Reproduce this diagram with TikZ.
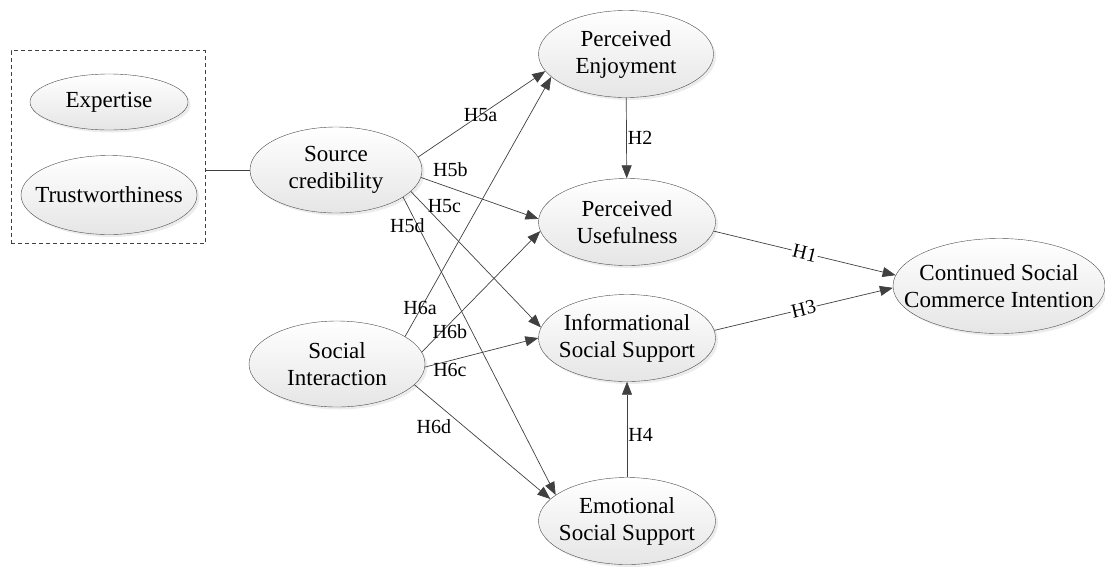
\documentclass[tikz,border=0pt]{standalone}
\usepackage{fontspec}
\setmainfont{Liberation Serif}
\usetikzlibrary{arrows.meta, positioning, shapes.geometric, shadows}

\begin{document}
\begin{tikzpicture}[
        x=1pt, y=-1pt,
        construct/.style={draw=black!70, ellipse, align=center, inner xsep=-20pt, inner ysep=0pt, top color=white, bottom color=black!10,
            drop shadow={shadow xshift=2.5pt, shadow yshift=-2.5pt, opacity=0.15},
            font=\fontsize{23}{27}\selectfont},
        dashbox/.style={draw=black!75, dash pattern=on 4pt off 3pt, line width=0.7pt},
        link/.style={draw=black!75, line width=0.7pt},
        effect/.style={link, -{Triangle[length=13pt, width=10pt]}},
        hyp/.style={font=\fontsize{20}{24}\selectfont, inner sep=1pt}
    ]
        \useasboundingbox (0,0) rectangle (1105,566);

        % source credibility dimensions
        \node[dashbox, minimum width=194pt, minimum height=193pt] (credbox) at (108,147) {};
        \node[construct, minimum width=158pt, minimum height=56pt] (ex) at (109,102) {Expertise};
        \node[construct, minimum width=176pt, minimum height=79pt] (tw) at (109,195) {Trustworthiness};

        % antecedents
        \node[construct, minimum width=172pt, minimum height=86pt] (sc) at (336,170) {Source\\credibility};
        \node[construct, minimum width=176pt, minimum height=86pt] (si) at (337,364) {Social\\Interaction};

        % mediators
        \node[construct, minimum width=175pt, minimum height=87pt] (pe) at (626,54) {Perceived\\Enjoyment};
        \node[construct, minimum width=177pt, minimum height=87pt] (pu) at (627,222) {Perceived\\Usefulness};
        \node[construct, minimum width=177pt, minimum height=87pt] (iss) at (627,338) {Informational\\Social Support};
        \node[construct, minimum width=177pt, minimum height=87pt] (ess) at (627,521) {Emotional\\Social Support};

        % outcome
        \node[construct, minimum width=212pt, minimum height=95pt] (csci) at (999,286) {Continued Social\\Commerce Intention};

        \draw[link] (sc.west -| credbox.east) -- (sc.west);

        \draw[effect] (sc.9) -- (pe.192) node[hyp, pos=0.49] (l5a) {H5a};
        \draw[effect] (sc.-5) -- (pu.178) node[hyp, pos=0.25, yshift=18pt] (l5b) {H5b};
        \draw[effect] (sc.-16) -- (iss.173) node[hyp, pos=0.12, anchor=west, yshift=2pt] (l5c) {H5c};
        \draw[effect] (sc.-22) -- (ess.160) node[hyp, pos=0.097, anchor=east, xshift=8pt] (l5d) {H5d};

        \draw[effect] (si.22) -- (pe.197) node[hyp, pos=0.11, xshift=-1pt] (l6a) {H6a};
        \draw[effect] (si.8) -- (pu.186) node[hyp, pos=0.17, xshift=8pt] (l6b) {H6b};
        \draw[effect] (si.-2) -- (iss.180) node[hyp, pos=0.22, yshift=-9.5pt] (l6c) {H6c};
        \draw[effect] (si.-15) -- (ess.164) node[hyp, pos=0.364, xshift=-30pt] (l6d) {H6d};

        \draw[effect] (pe) -- (pu) node[hyp, midway, right] (l2) {H2};
        \draw[effect] (ess) -- (iss) node[hyp, pos=0.44, right] (l4) {H4};

        \draw[effect] (pu.-6) -- (csci.174) node[hyp, midway, sloped, fill=white] (l1) {H1};
        \draw[effect] (iss.5) -- (csci.181) node[hyp, midway, sloped, fill=white] (l3) {H3};
    \end{tikzpicture}
\end{document}
